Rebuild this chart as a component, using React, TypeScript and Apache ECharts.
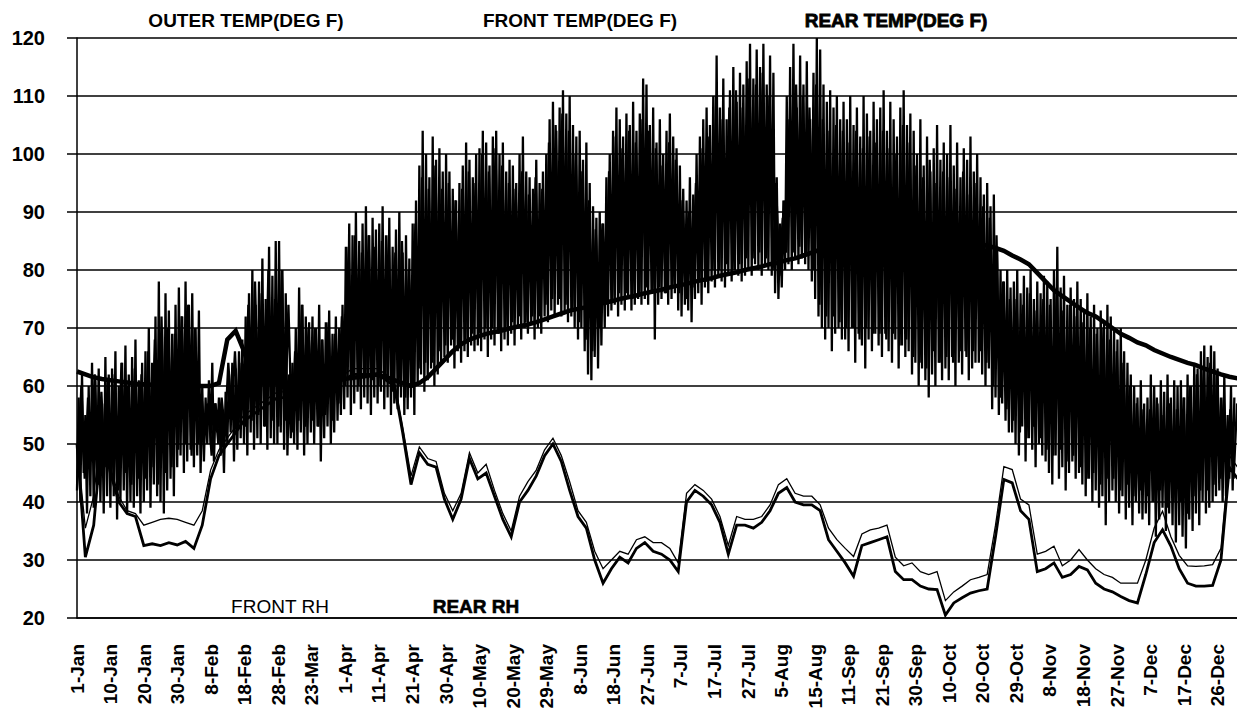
import React, { useEffect, useRef } from "react";
import * as echarts from "echarts";

// X axis tick labels (equally spaced)
const dateLabels = [
  "1-Jan", "10-Jan", "20-Jan", "30-Jan", "8-Feb", "18-Feb", "28-Feb", "23-Mar", "1-Apr", "11-Apr",
  "21-Apr", "30-Apr", "10-May", "20-May", "29-May", "8-Jun", "18-Jun", "27-Jun", "7-Jul", "17-Jul",
  "27-Jul", "5-Aug", "15-Aug", "11-Sep", "21-Sep", "30-Sep", "10-Oct", "20-Oct", "29-Oct", "8-Nov",
  "18-Nov", "27-Nov", "7-Dec", "17-Dec", "26-Dec",
];

// Outer temperature: daily highs / lows (10 per data interval)
const outerHigh = [
  58, 62, 55, 60, 64, 61, 63, 57, 65, 62,
  63, 66, 60, 64, 67, 62, 65, 68, 61, 64,
  66, 70, 64, 72, 78, 70, 76, 73, 69, 74,
  77, 72, 78, 74, 76, 70, 73, 60, 58, 61,
  64, 57, 58, 56, 59, 62, 64, 63, 66, 68,
  72, 76, 80, 74, 78, 82, 75, 84, 79, 85,
  85, 80, 76, 62, 64, 70, 77, 74, 72, 71,
  72, 70, 74, 68, 71, 73, 69, 72, 70, 74,
  84, 88, 86, 90, 85, 88, 91, 86, 89, 87,
  88, 91, 86, 89, 84, 87, 90, 83, 86, 82,
  88, 92, 98, 104, 100, 96, 103, 99, 101, 97,
  100, 97, 94, 92, 95, 98, 102, 99, 96, 100,
  101, 104, 102, 98, 103, 104, 100, 102, 97, 99,
  98, 95, 100, 103, 97, 96, 94, 99, 95, 97,
  100, 106, 109, 104, 108, 111, 107, 110, 105, 103,
  104, 99, 102, 95, 91, 89, 90, 88, 96, 100,
  104, 108, 106, 103, 107, 105, 109, 104, 107, 113,
  112, 105, 108, 102, 106, 100, 104, 107, 103, 101,
  98, 94, 92, 96, 93, 100, 103, 106, 108, 105,
  110, 117, 108, 113, 106, 111, 115, 109, 114, 112,
  116, 119, 113, 118, 115, 119, 112, 117, 114, 96,
  88, 92, 110, 115, 119, 108, 117, 112, 116, 106,
  114, 120, 118, 112, 109, 111, 108, 110, 106, 109,
  106, 110, 105, 108, 103, 110, 107, 104, 109, 106,
  108, 111, 104, 109, 106, 103, 108, 111, 105, 107,
  104, 100, 106, 98, 103, 97, 101, 105, 99, 102,
  100, 105, 98, 102, 96, 101, 99, 103, 97, 100,
  96, 93, 95, 91, 93, 84, 80, 78, 80, 77,
  78, 80, 76, 79, 77, 80, 75, 78, 76, 79,
  78, 75, 80, 84, 77, 79, 74, 77, 75, 78,
  75, 73, 76, 72, 74, 70, 73, 71, 74, 72,
  70, 68, 70, 66, 64, 62, 60, 58, 61, 57,
  58, 62, 60, 57, 61, 59, 62, 58, 61, 60,
  61, 58, 62, 60, 64, 63, 66, 67, 65, 67,
  66, 63, 58, 62, 55, 60, 58,
];
const outerLow = [
  42, 40, 45, 38, 41, 39, 43, 40, 38, 41,
  39, 41, 37, 40, 42, 38, 40, 39, 41, 38,
  40, 42, 39, 43, 41, 40, 38, 42, 44, 41,
  46, 48, 45, 47, 49, 46, 48, 45, 47, 50,
  50, 47, 52, 48, 45, 50, 52, 47, 49, 51,
  50, 48, 52, 49, 51, 50, 53, 49, 51, 50,
  50, 52, 49, 48, 51, 50, 49, 52, 48, 50,
  52, 50, 53, 47, 51, 53, 50, 52, 54, 55,
  56, 58, 55, 57, 59, 56, 58, 57, 55, 58,
  57, 59, 56, 58, 55, 57, 56, 58, 55, 56,
  58, 55, 60, 62, 59, 61, 63, 60, 62, 64,
  65, 64, 67, 63, 66, 64, 66, 65, 67, 66,
  67, 66, 68, 65, 68, 67, 69, 66, 68, 67,
  69, 67, 70, 68, 70, 69, 71, 68, 70, 69,
  72, 71, 73, 72, 74, 72, 73, 71, 72, 70,
  68, 70, 66, 62, 61, 65, 63, 67, 70, 72,
  73, 74, 72, 74, 73, 75, 73, 74, 75, 74,
  75, 74, 76, 68, 74, 75, 76, 74, 75, 76,
  73, 72, 74, 73, 71, 75, 76, 74, 77, 76,
  78, 77, 79, 78, 77, 79, 78, 80, 79, 78,
  79, 80, 79, 81, 80, 79, 81, 80, 79, 76,
  75, 77, 80, 81, 80, 82, 81, 82, 81, 80,
  78, 75, 72, 70, 68, 70, 66, 69, 70, 68,
  68, 66, 70, 64, 69, 67, 63, 68, 66, 69,
  67, 65, 69, 66, 64, 68, 63, 67, 65, 66,
  62, 64, 60, 63, 61, 58, 62, 60, 64, 61,
  63, 61, 65, 60, 64, 62, 66, 61, 63, 64,
  64, 62, 60, 63, 56, 58, 55, 57, 54, 52,
  52, 50, 48, 53, 47, 51, 49, 46, 50, 48,
  47, 45, 43, 48, 44, 46, 42, 45, 47, 44,
  45, 43, 41, 44, 40, 42, 39, 41, 36, 40,
  42, 40, 38, 41, 37, 39, 36, 40, 38, 37,
  38, 36, 40, 34, 37, 39, 35, 38, 36, 33,
  36, 34, 32, 37, 35, 38, 36, 40, 38, 39,
  40, 41, 42, 40, 41, 44, 42,
];

// Front temperature: highs / lows (5 per data interval)
const frontHigh = [
  60, 58, 62, 59, 61, 62, 64, 60, 63, 62, 66, 68, 72, 70, 69, 72, 74, 70, 58, 57,
  57, 58, 64, 66, 64, 74, 78, 76, 80, 75, 80, 74, 66, 74, 70, 70, 68, 71, 69, 72,
  84, 86, 83, 86, 84, 85, 86, 83, 85, 80, 88, 96, 94, 98, 94, 95, 92, 94, 97, 95,
  100, 97, 101, 98, 95, 94, 97, 93, 96, 94, 102, 105, 107, 104, 100, 97, 92, 87, 88, 97,
  103, 101, 104, 102, 106, 104, 101, 98, 102, 99, 92, 90, 95, 101, 103, 110, 106, 108, 111, 108,
  113, 112, 114, 110, 95, 89, 106, 112, 110, 108, 112, 106, 104, 105, 104, 102, 104, 101, 103, 102,
  104, 101, 100, 105, 102, 98, 96, 99, 95, 97, 96, 94, 97, 93, 95, 91, 89, 86, 78, 75,
  75, 74, 76, 73, 75, 74, 77, 73, 74, 72, 71, 70, 69, 70, 68, 66, 64, 60, 57, 56,
  56, 58, 55, 57, 56, 58, 60, 62, 63, 64, 62, 58, 56, 57,
];
const frontLow = [
  45, 44, 47, 43, 46, 44, 42, 45, 43, 44, 44, 46, 43, 45, 46, 49, 50, 48, 50, 52,
  48, 50, 52, 55, 53, 53, 54, 55, 53, 54, 53, 54, 52, 54, 53, 54, 53, 55, 54, 57,
  60, 61, 60, 62, 61, 60, 61, 59, 60, 58, 60, 63, 64, 64, 66, 67, 68, 67, 68, 69,
  69, 70, 70, 69, 70, 71, 72, 71, 72, 72, 74, 75, 75, 74, 73, 71, 68, 66, 70, 74,
  75, 76, 76, 75, 76, 77, 76, 77, 76, 77, 76, 75, 77, 78, 78, 80, 80, 81, 80, 81,
  82, 82, 83, 82, 80, 79, 83, 83, 84, 83, 80, 74, 72, 72, 71, 70, 70, 68, 70, 69,
  69, 68, 69, 67, 68, 65, 64, 63, 66, 64, 65, 64, 66, 65, 66, 66, 64, 60, 58, 56,
  54, 52, 51, 53, 51, 49, 48, 49, 47, 48, 46, 44, 45, 43, 44, 44, 42, 43, 41, 42,
  41, 40, 42, 39, 40, 40, 38, 41, 42, 42, 43, 44, 45, 44,
];

// Rear temperature (4 per data interval)
const rearTemp = [
  62.5, 62, 61.5, 61.2, 61, 60.8, 60.6, 60.4, 60.3, 60.2, 60.1, 60, 60, 60, 60, 60,
  60, 60.5, 68, 69.5, 66, 61, 60.5, 60.5, 60.5, 60.5, 60.6, 60.7, 60.8, 60.9, 61, 61,
  61.2, 61.4, 61.6, 61.8, 62, 61.5, 61, 60.5, 60, 60.5, 61.5, 63, 64.5, 66, 67.2, 68,
  68.5, 69, 69.3, 69.6, 70, 70.3, 70.6, 71, 71.5, 72, 72.5, 73, 73.3, 73.6, 74, 74.3,
  74.6, 75, 75.3, 75.6, 76, 76.3, 76.6, 77, 77.3, 77.6, 78, 78.3, 78.6, 79, 79.3, 79.6,
  80, 80.3, 80.6, 81, 81.3, 81.7, 82, 82.5, 83, 83.5, 84, 84.5, 85, 85.4, 85.8, 86,
  86.3, 86.5, 86.7, 86.8, 86.8, 86.7, 86.5, 86.2, 86, 85.6, 85.2, 84.8, 84.5, 84.2, 83.8, 83.3,
  82.5, 81.8, 81, 79.5, 78, 76.5, 75.5, 74.5, 73.5, 72.6, 72, 71, 70, 69, 68.3, 67.5,
  67, 66.2, 65.6, 65, 64.5, 64, 63.6, 63, 62.5, 62, 61.6, 61.3,
];

// Relative humidity (4 per data interval)
const frontRH = [
  50, 35.5, 41, 54, 46, 41, 38.5, 38, 36, 36.5, 37, 37.2, 37, 36.5, 36, 38.5,
  45.5, 49, 51, 53, 55, 56, 57, 58, 59, 59, 59, 60, 60, 61, 61, 62,
  62, 63, 63, 63, 63, 62, 61, 53, 44.5, 49.5, 47.5, 47, 41.5, 38.5, 41.5, 48.5,
  45, 46.5, 42, 38, 35, 41, 43.5, 45.5, 49, 51, 48, 43.5, 38.5, 36.5, 31.5, 28.5,
  30, 31.5, 31, 33.5, 34, 33, 33, 32, 29.5, 41.5, 43, 42, 40.5, 37.5, 32.5, 37.5,
  37, 37, 37.5, 39.5, 43, 44, 41.5, 41, 41, 39.5, 35.5, 33.5, 32, 30.6, 34.5, 35.2,
  35.5, 36, 30.5, 29, 29.5, 28, 27.5, 28, 23, 24.5, 25.5, 26.6, 27, 27.5, 36, 46.1,
  45.6, 40.5, 39.5, 31, 31.5, 32.4, 29, 30, 31.8, 30, 28.5, 27.5, 27, 26, 26, 26,
  30, 35.5, 38.4, 34, 30.8, 29, 28.9, 29, 29.2, 32, 48, 46,
];
const rearRH = [
  50, 30.5, 36, 52, 45, 40, 38, 37.5, 32.5, 32.8, 32.5, 33, 32.6, 33.2, 32, 36,
  44, 48, 50, 52, 54, 55, 56, 57, 58, 58, 58, 59, 59, 60, 60, 61,
  61, 62, 62, 62, 62, 61, 60, 52, 43, 48.5, 46.5, 46, 40.5, 37, 40.5, 47.5,
  44, 45, 41, 37, 34, 40, 42, 44.5, 48, 50, 47, 42, 37.5, 35.5, 30, 26,
  28.5, 30.5, 29.5, 32, 33, 31.5, 31, 30, 28, 40, 42, 41, 39.5, 36.5, 31, 36,
  36, 35.5, 36.5, 38.5, 41.5, 42.5, 40, 39.5, 39.5, 38.5, 33.5, 31.5, 29.5, 27.2, 32.5, 33,
  33.5, 34, 28, 26.6, 26.6, 25.5, 25, 24.9, 20.5, 22.6, 23.5, 24.3, 24.7, 25, 34, 43.9,
  43.3, 38.5, 37, 28, 28.5, 29.5, 27, 27.5, 28.9, 28.3, 26, 25, 24.5, 23.7, 23, 22.6,
  27.5, 33, 35.2, 32.4, 28.5, 26, 25.5, 25.5, 25.6, 30, 46, 44,
];

const LABEL_STEP = 1.0045;
const X_MAX = 34.73;

export default function App() {
  const ref = useRef<HTMLDivElement>(null);

  useEffect(() => {
    const chart = echarts.init(ref.current as HTMLDivElement, null, { renderer: "svg" });

    const outerData: number[][] = [];
    outerHigh.forEach((h, d) => {
      outerData.push([d / 10, outerLow[d]]);
      outerData.push([d / 10 + 0.05, h]);
    });
    const frontData: number[][] = [];
    frontHigh.forEach((h, j) => {
      frontData.push([j / 5 + 0.03, frontLow[j]]);
      frontData.push([j / 5 + 0.13, h]);
    });
    const quarter = (arr: number[]) => arr.map((v, k) => [k / 4, v]);

    const font = "Liberation Sans, Arial, Helvetica, sans-serif";
    const line = (name: string, data: number[][], width: number) => ({
      name,
      type: "line",
      data,
      showSymbol: false,
      symbol: "none",
      lineStyle: { color: "#000", width, join: "miter", miterLimit: 4 },
      itemStyle: { color: "#000" },
      emphasis: { disabled: true },
      z: 3,
    });

    chart.setOption({
      animation: false,
      backgroundColor: "#fff",
      grid: { left: 77, right: 0, top: 38, bottom: 94, containLabel: false },
      xAxis: {
        type: "value",
        min: 0,
        max: X_MAX,
        axisLine: { show: true, lineStyle: { color: "#000", width: 1.5 } },
        axisTick: { show: false },
        splitLine: { show: false },
        axisLabel: {
          customValues: dateLabels.map((_, i) => i * LABEL_STEP),
          formatter: (v: number) => dateLabels[Math.round(v / LABEL_STEP)] ?? "",
          rotate: 90,
          margin: 26,
          color: "#000",
          fontFamily: font,
          fontWeight: "bold",
          fontSize: 19,
          hideOverlap: false,
        },
      },
      yAxis: {
        type: "value",
        min: 20,
        max: 120,
        interval: 10,
        axisLine: { show: true, lineStyle: { color: "#000", width: 1.5 } },
        axisTick: { show: true, inside: false, length: 10, lineStyle: { color: "#000", width: 1.5 } },
        splitLine: { show: true, lineStyle: { color: "#000", width: 1.5 } },
        axisLabel: {
          color: "#000",
          fontFamily: font,
          fontWeight: "bold",
          fontSize: 20,
          margin: 32,
        },
      },
      series: [
        line("FRONT RH", quarter(frontRH), 1.3),
        line("REAR RH", quarter(rearRH), 2.8),
        line("OUTER TEMP(DEG F)", outerData, 2.3),
        line("FRONT TEMP(DEG F)", frontData, 2.3),
        line("REAR TEMP(DEG F)", quarter(rearTemp), 4.5),
      ],
      graphic: [
        {
          type: "text", x: 246, y: 20, silent: true,
          style: { text: "OUTER TEMP(DEG F)", fill: "#000", font: `bold 19px ${font}`, textAlign: "center", textVerticalAlign: "middle" },
        },
        {
          type: "text", x: 580, y: 20, silent: true,
          style: { text: "FRONT TEMP(DEG F)", fill: "#000", font: `bold 19px ${font}`, textAlign: "center", textVerticalAlign: "middle" },
        },
        {
          type: "text", x: 896, y: 20, silent: true,
          style: { text: "REAR TEMP(DEG F)", fill: "#000", stroke: "#000", lineWidth: 0.8, font: `bold 19px ${font}`, textAlign: "center", textVerticalAlign: "middle" },
        },
        {
          type: "text", x: 280, y: 606, silent: true,
          style: { text: "FRONT RH", fill: "#000", font: `19px ${font}`, textAlign: "center", textVerticalAlign: "middle" },
        },
        {
          type: "text", x: 476, y: 606, silent: true,
          style: { text: "REAR RH", fill: "#000", stroke: "#000", lineWidth: 0.6, font: `bold 19px ${font}`, textAlign: "center", textVerticalAlign: "middle" },
        },
      ],
    });

    return () => chart.dispose();
  }, []);

  return (
    <div
      ref={ref}
      style={{ position: "fixed", left: 0, top: 0, width: 1237, height: 712, background: "#fff" }}
    />
  );
}
